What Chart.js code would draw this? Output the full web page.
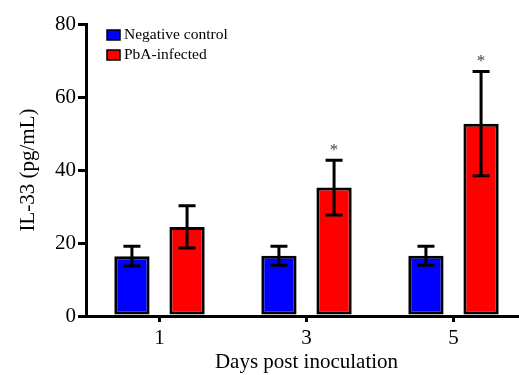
<!DOCTYPE html>
<html>
<head>
<meta charset="utf-8">
<script src="https://cdn.jsdelivr.net/npm/chart.js@4/dist/chart.umd.min.js"></script>
<style>
    html, body { margin: 0; padding: 0; background: #fff; overflow: hidden; }
    #wrap { width: 527px; height: 375px; }
</style>
</head>
<body>
<div id="wrap"><canvas id="chart" width="527" height="375"></canvas></div>
<script>
// Data
const days = ['1', '3', '5'];
const controlMean = [16.4, 16.5, 16.5];
const controlErr = [2.7, 2.6, 2.6];
const infectedMean = [24.4, 35.2, 52.7];
const infectedErr = [5.8, 7.5, 14.3];
const infectedStar = ['', '*', '*'];
const yTicks = [0, 20, 40, 60, 80];
const seriesNames = ['Negative control', 'PbA-infected'];
const seriesColors = ['#0000ff', '#ff0000'];

const serif = "'Liberation Serif', 'Times New Roman', serif";

// Error bars and asterisks on top of the bars
const errorBars = {
    id: 'errorBars',
    afterDatasetsDraw(chart) {
        const ctx = chart.ctx;
        const y = chart.scales.y;
        const errs = [controlErr, infectedErr];
        const means = [controlMean, infectedMean];
        ctx.save();
        ctx.strokeStyle = '#000';
        ctx.lineWidth = 3;
        chart.data.datasets.forEach((ds, i) => {
            const meta = chart.getDatasetMeta(i);
            meta.data.forEach((bar, j) => {
                const top = y.getPixelForValue(means[i][j] + errs[i][j]);
                const bot = y.getPixelForValue(means[i][j] - errs[i][j]);
                const half = 8.5;
                ctx.beginPath();
                ctx.moveTo(bar.x, top);
                ctx.lineTo(bar.x, bot);
                ctx.moveTo(bar.x - half, top);
                ctx.lineTo(bar.x + half, top);
                ctx.moveTo(bar.x - half, bot);
                ctx.lineTo(bar.x + half, bot);
                ctx.stroke();
                if (i === 1 && infectedStar[j]) {
                    ctx.fillStyle = '#444';
                    ctx.font = '17px ' + serif;
                    ctx.textAlign = 'center';
                    ctx.textBaseline = 'middle';
                    ctx.fillText(infectedStar[j], bar.x, top - 10);
                }
            });
        });
        ctx.restore();
    }
};

// Legend drawn inside the plot, stacked
const boxLegend = {
    id: 'boxLegend',
    afterDraw(chart) {
        const ctx = chart.ctx;
        ctx.save();
        ctx.font = '15.5px ' + serif;
        ctx.textBaseline = 'middle';
        ctx.textAlign = 'left';
        seriesNames.forEach((name, i) => {
            const cy = 35 + i * 20;
            ctx.fillStyle = seriesColors[i];
            ctx.fillRect(107, cy - 5, 13, 10);
            ctx.strokeStyle = '#000';
            ctx.lineWidth = 1.5;
            ctx.strokeRect(107, cy - 5, 13, 10);
            ctx.fillStyle = '#000';
            ctx.fillText(name, 124, cy);
        });
        ctx.restore();
    }
};

new Chart(document.getElementById('chart'), {
    type: 'bar',
    data: {
        labels: days,
        datasets: [
            {
                label: seriesNames[0],
                data: controlMean,
                backgroundColor: seriesColors[0],
                borderColor: '#000',
                borderWidth: 3,
                borderSkipped: false
            },
            {
                label: seriesNames[1],
                data: infectedMean,
                backgroundColor: seriesColors[1],
                borderColor: '#000',
                borderWidth: 3,
                borderSkipped: false
            }
        ]
    },
    options: {
        responsive: false,
        animation: false,
        categoryPercentage: 0.75,
        barPercentage: 0.64,
        layout: { padding: { top: 24, left: 0, right: 0, bottom: 0 } },
        plugins: {
            legend: { display: false },
            tooltip: { enabled: false }
        },
        scales: {
            x: {
                afterFit(scale) { scale.height = 59; },
                grid: {
                    offset: false,
                    drawOnChartArea: false,
                    drawTicks: true,
                    tickLength: 6,
                    lineWidth: 3,
                    color: '#000'
                },
                border: { display: true, color: '#000', width: 3 },
                ticks: {
                    color: '#000',
                    padding: 4,
                    font: { family: serif, size: 21 }
                },
                title: {
                    display: true,
                    text: 'Days post inoculation',
                    color: '#000',
                    padding: { top: 4, bottom: 0 },
                    font: { family: serif, size: 21 }
                }
            },
            y: {
                min: 0,
                max: 80,
                afterFit(scale) { scale.width = 86; },
                afterBuildTicks(scale) {
                    scale.ticks = yTicks.map(v => ({ value: v }));
                },
                grid: {
                    drawOnChartArea: false,
                    drawTicks: true,
                    tickLength: 8,
                    lineWidth: 3,
                    color: '#000'
                },
                border: { display: true, color: '#000', width: 3 },
                ticks: {
                    color: '#000',
                    padding: 2,
                    font: { family: serif, size: 21 }
                },
                title: {
                    display: true,
                    text: 'IL-33 (pg/mL)',
                    color: '#000',
                    padding: { top: 16, bottom: 4 },
                    font: { family: serif, size: 21 }
                }
            }
        }
    },
    plugins: [errorBars, boxLegend]
});
</script>
</body>
</html>
